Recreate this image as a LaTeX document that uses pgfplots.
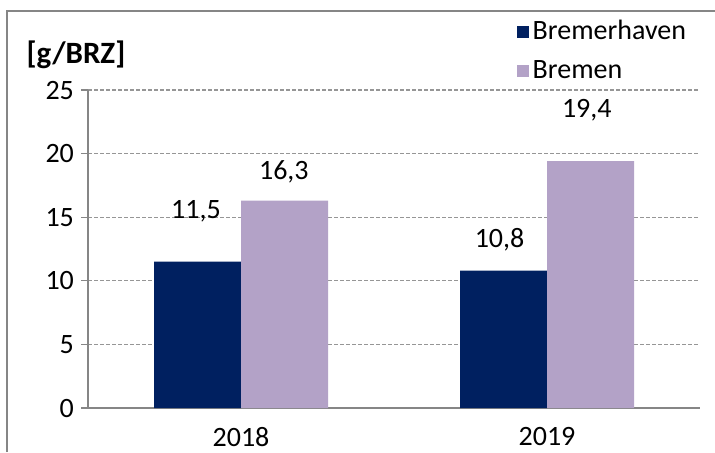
\documentclass[border=0pt]{standalone}
\usepackage{pgfplots}
\pgfplotsset{compat=1.18}
\usepackage{fontspec}
\setmainfont{Carlito}
\definecolor{cNavy}{HTML}{002060}
\definecolor{cLav}{HTML}{B3A2C7}
\definecolor{axgray}{HTML}{868686}
\definecolor{gridgray}{HTML}{969696}
\begin{document}
\begin{tikzpicture}[font=\fontsize{14}{16.8}\selectfont]
\useasboundingbox (0,0) rectangle (357.5pt,226pt);
\draw[axgray, line width=0.8pt] (3.5pt,0) -- (3.5pt,220.5pt) -- (357.5pt,220.5pt);
\begin{axis}[
  at={(44pt,22pt)}, anchor=south west,
  scale only axis, width=306pt, height=159pt,
  ybar=0pt, bar width=43.5pt,
  xmin=-0.5, xmax=1.5, ymin=0, ymax=25,
  axis x line*=bottom, axis y line*=left,
  axis line style={axgray, line width=0.6pt},
  xtick={0,1}, xticklabels={2018,2019},
  major x tick style={draw=none},
  extra x ticks={-0.5,0.5,1.5}, extra x tick labels={},
  extra x tick style={major tick length=5pt, tick style={axgray, line width=0.6pt}, xtick align=outside},
  ytick={0,5,...,25},
  ytick align=outside, major y tick style={axgray, line width=0.6pt}, major tick length=3.5pt,
  ymajorgrids, grid style={gridgray, dash pattern=on 2pt off 1pt, line width=0.6pt},
  tick label style={font=\fontsize{14}{16.8}\selectfont},
  /pgf/number format/assume math mode=true,
  x tick label style={yshift=-2.5pt},
  legend style={at={(0.69,1.245)}, anchor=north west, draw=none, fill=none,
    row sep=5pt, font=\fontsize{14}{16.8}\selectfont},
  legend cell align=left,
  legend image code/.code={\fill[#1] (0pt,-3pt) rectangle (6pt,3pt);},
  clip=false,
]
\addplot[fill=cNavy, draw=none] coordinates {(0,11.5) (1,10.8)};
\addplot[fill=cLav, draw=none] coordinates {(0,16.3) (1,19.4)};
\legend{Bremerhaven, Bremen}
\node at (axis cs:-0.147,15.49) {11,5};
\node at (axis cs:0.14,18.55) {16,3};
\node at (axis cs:0.845,13.2) {10,8};
\node at (axis cs:1.13,23.43) {19,4};
\end{axis}
\node[font=\bfseries\fontsize{15.5}{18}\selectfont] at (38pt,198.5pt) {[g/BRZ]};
\end{tikzpicture}
\end{document}
